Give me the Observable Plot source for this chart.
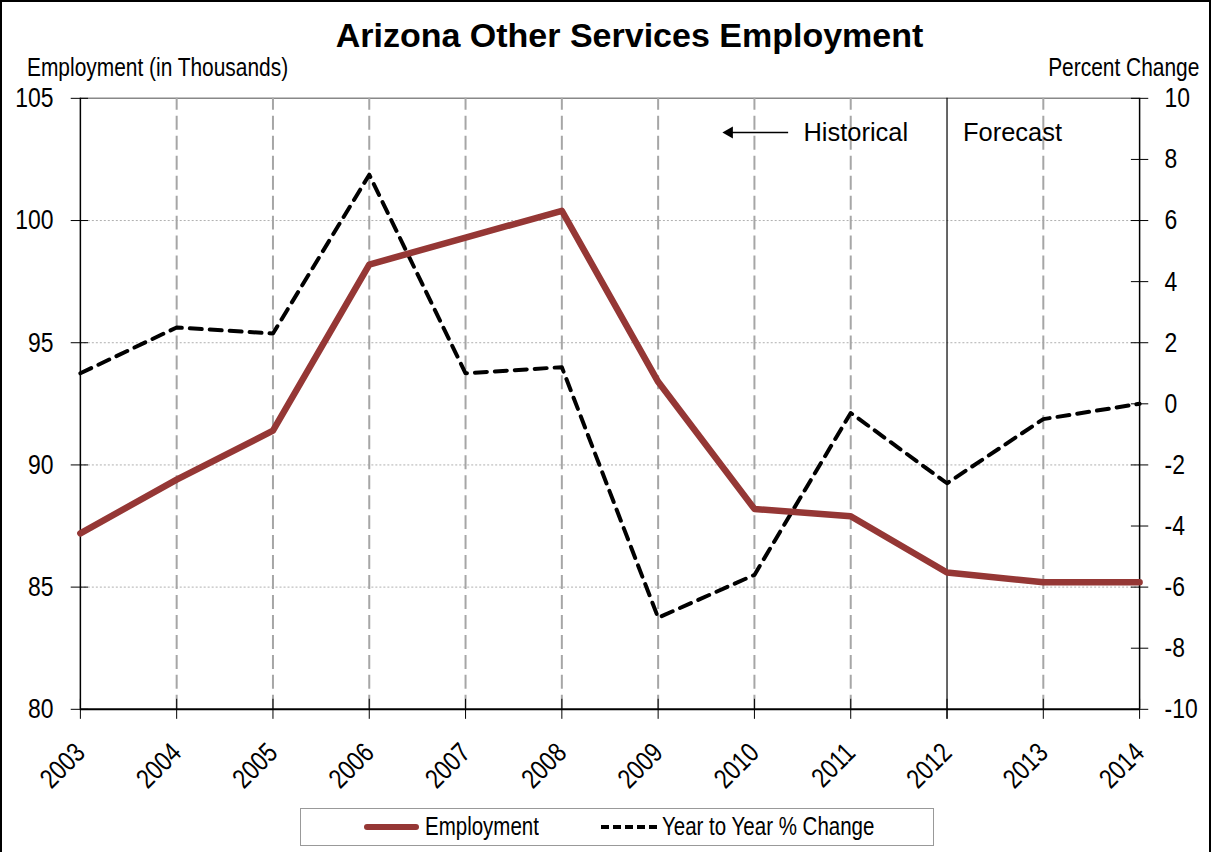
<!DOCTYPE html>
<html>
<head>
<meta charset="utf-8">
<script src="https://cdn.jsdelivr.net/npm/d3@7"></script>
<script src="https://cdn.jsdelivr.net/npm/@observablehq/plot@0.6"></script>
<style>
  html, body { margin: 0; padding: 0; background: #fff; }
  #wrap { position: relative; width: 1211px; height: 852px; box-sizing: border-box; border-left: 2px solid #000; border-top: 2px solid #000; border-right: 2px solid #000; overflow: hidden; font-family: "Liberation Sans", Arial, sans-serif; }
  #chart { position: absolute; left: -2px; top: -2px; }
  .narrow { display: inline-block; transform: scaleX(0.82); white-space: nowrap; }
  #title { position: absolute; left: 22px; width: 1211px; top: 14px; text-align: center; font-weight: bold; font-size: 34px; color: #000; }
  #ylab { position: absolute; left: 25px; top: 51px; font-size: 25.5px; transform-origin: left center; }
  #y2lab { position: absolute; right: 10px; top: 51px; font-size: 25.5px; transform-origin: right center; }
  #legend { position: absolute; left: 298px; top: 806px; width: 632px; height: 36px; border: 1px solid #999; background: #fff; font-size: 25px; }
  .sw { position: absolute; top: 17px; height: 0; }
  .lt { position: absolute; top: 3px; transform-origin: left center; }
</style>
</head>
<body>
<div id="wrap">
  <div id="chart"></div>
  <div id="title">Arizona Other Services Employment</div>
  <div id="ylab" class="narrow">Employment (in Thousands)</div>
  <div id="y2lab" class="narrow">Percent Change</div>
  <div id="legend">
    <div class="sw" style="left:63px;width:55px;border-top:6px solid #953735;border-radius:3px;top:15px;"></div>
    <div class="lt narrow" style="left:124px;">Employment</div>
    <div class="sw" style="left:300px;width:56px;border-top:4px dashed #000;top:16px;"></div>
    <div class="lt narrow" style="left:361px;">Year to Year % Change</div>
  </div>
</div>
<script>
const years = [2003, 2004, 2005, 2006, 2007, 2008, 2009, 2010, 2011, 2012, 2013, 2014];
const employment = [87.2, 89.4, 91.4, 98.2, 99.3, 100.4, 93.4, 88.2, 87.9, 85.6, 85.2, 85.2];
const pctChange = [1.0, 2.5, 2.3, 7.5, 1.0, 1.2, -7.0, -5.6, -0.3, -2.6, -0.5, 0.0];
const leftTicks = [80, 85, 90, 95, 100, 105];
const rightTicks = [-10, -8, -6, -4, -2, 0, 2, 4, 6, 8, 10];
const forecastStart = 2012;

// map percent change onto the left scale: -10..10 -> 80..105
const pctToY = p => 92.5 + 1.25 * p;
const yToPct = v => Math.round((v - 92.5) / 1.25);

const empData = years.map((y, i) => ({year: y, value: employment[i]}));
const pctData = years.map((y, i) => ({year: y, value: pctToY(pctChange[i])}));

const sans = '"Liberation Sans", Arial, sans-serif';
const x0 = years[0], x1 = years[years.length - 1];

const chart = Plot.plot({
  width: 1211,
  height: 852,
  marginLeft: 80,
  marginRight: 70,
  marginTop: 98,
  marginBottom: 142,
  style: {fontFamily: sans, fontSize: "28px", background: "transparent", overflow: "visible"},
  x: {domain: [x0, x1], axis: null},
  y: {domain: [80, 105], axis: null},
  marks: [
    // horizontal dotted gridlines
    Plot.ruleY(leftTicks.filter(t => t > 80 && t < 105), {x1: x0, x2: x1, stroke: "#b0b0b0", strokeWidth: 1, strokeDasharray: "2,2"}),
    Plot.ruleY([105], {x1: x0, x2: x1, stroke: "#888", strokeWidth: 1.5}),
    // vertical dashed gridlines
    Plot.ruleX(years.filter(y => y !== x0 && y !== x1 && y !== forecastStart), {y1: 80, y2: 105, stroke: "#a6a6a6", strokeWidth: 2, strokeDasharray: "14,6"}),
    // forecast divider
    Plot.ruleX([forecastStart], {y1: 80 - 0.41, y2: 105, stroke: "#000", strokeWidth: 1.2}),
    // axis lines
    Plot.ruleX([x0], {y1: 80, y2: 105, stroke: "#000", strokeWidth: 1.5}),
    Plot.ruleX([x1], {y1: 80, y2: 105, stroke: "#000", strokeWidth: 1.5}),
    Plot.ruleY([80], {x1: x0, x2: x1, stroke: "#000", strokeWidth: 2}),
    // tick marks crossing the axes
    Plot.ruleY(leftTicks, {x1: x0 - 0.095, x2: x0 + 0.085, stroke: "#000", strokeWidth: 1}),
    Plot.ruleY(rightTicks.map(pctToY), {x1: x1 - 0.085, x2: x1 + 0.095, stroke: "#000", strokeWidth: 1}),
    Plot.ruleX(years, {y1: 80 - 0.41, y2: 80 + 0.41, stroke: "#000", strokeWidth: 1}),
    // axis labels
    Plot.axisY(leftTicks, {anchor: "left", label: null, tickSize: 0, tickPadding: 27, tickFormat: d => String(d), fontSize: 28}),
    Plot.axisY(rightTicks.map(pctToY), {anchor: "right", label: null, tickSize: 0, tickPadding: 25, tickFormat: v => String(yToPct(v)), fontSize: 28}),
    Plot.axisX(years, {anchor: "bottom", label: null, tickSize: 0, tickPadding: 39, tickRotate: -45, tickFormat: d => String(d), fontSize: 27.5}),
    // data lines
    Plot.line(pctData, {x: "year", y: "value", stroke: "#000", strokeWidth: 4, strokeDasharray: "12,8"}),
    Plot.line(empData, {x: "year", y: "value", stroke: "#953735", strokeWidth: 6.5}),
    // annotation
    Plot.text(["Historical"], {x: forecastStart, y: 103.6, dx: -39, textAnchor: "end", fontSize: 25.5, fill: "#000"}),
    Plot.text(["Forecast"], {x: forecastStart, y: 103.6, dx: 16, textAnchor: "start", fontSize: 25.5, fill: "#000"}),
    Plot.link([{a: 2010.35, b: 2009.76}], {x1: "a", x2: "b", y1: 103.6, y2: 103.6, stroke: "#000", strokeWidth: 1.5}),
    Plot.dot([{a: 2009.74}], {x: "a", y: 103.6, symbol: "triangle", r: 4.5, fill: "#000", stroke: "none", rotate: -90})
  ]
});
document.getElementById("chart").appendChild(chart);

// narrow the tick labels (Arial Narrow look) while keeping them as real text
chart.querySelectorAll('g[aria-label="y-axis tick label"] text, g[aria-label="x-axis tick label"] text').forEach(t => {
  const L = t.getComputedTextLength();
  t.setAttribute("textLength", (L * 0.82).toFixed(2));
  t.setAttribute("lengthAdjust", "spacingAndGlyphs");
});
</script>
</body>
</html>
